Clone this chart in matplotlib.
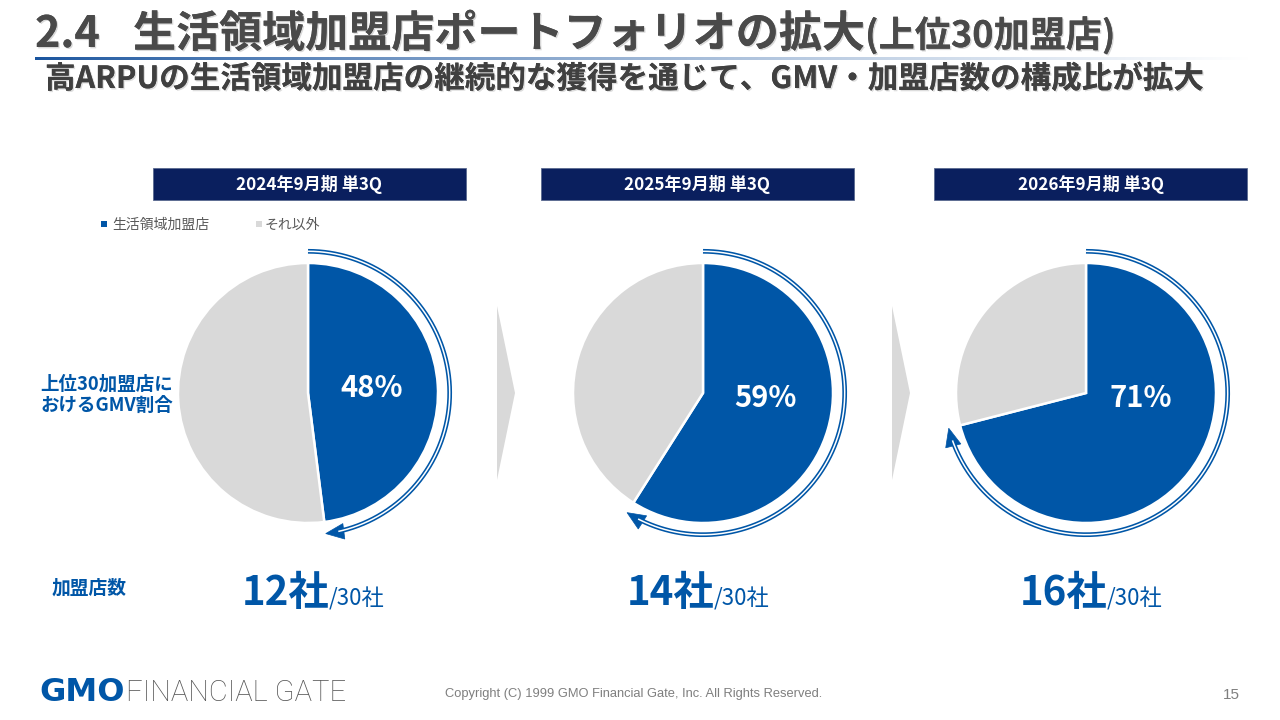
import numpy as np
import matplotlib
matplotlib.use("Agg")
import matplotlib.pyplot as plt
from matplotlib.patches import Rectangle, Polygon
import matplotlib.patheffects as pe

plt.rcParams['font.family'] = ['Noto Sans CJK JP', 'DejaVu Sans']

# ---------------- data ----------------
periods = ['2024年9月期 単3Q', '2025年9月期 単3Q', '2026年9月期 単3Q']
life_share = [48, 59, 71]          # 生活領域加盟店 share of GMV (%)
other_share = [52, 41, 29]         # それ以外 (%)
store_counts = [12, 14, 16]        # 加盟店数
store_total = 30
legend_labels = ['生活領域加盟店', 'それ以外']

title_num = '2.4'
title_main = '生活領域加盟店ポートフォリオの拡大'
title_sub = '(上位30加盟店)'
subtitle = '高ARPUの生活領域加盟店の継続的な獲得を通じて、GMV・加盟店数の構成比が拡大'
row_label_gmv = '上位30加盟店に\nおけるGMV割合'
row_label_cnt = '加盟店数'
copyright_txt = 'Copyright (C) 1999 GMO Financial Gate, Inc. All Rights Reserved.'
page_no = '15'

# ---------------- style ----------------
BLUE = '#0056A7'
GRAY = '#D9D9D9'
NAVY = '#0A1F5E'
TITLE_C = '#4A4A4A'

W, H = 1280, 720
fig = plt.figure(figsize=(W / 100, H / 100), dpi=100)
fig.patch.set_facecolor('white')

bg = fig.add_axes([0, 0, 1, 1])
bg.set_xlim(0, W)
bg.set_ylim(H, 0)
bg.axis('off')

renderer = fig.canvas.get_renderer()


def text_width(t):
    bb = t.get_window_extent(renderer=renderer)
    return bb.width


# ---------------- title ----------------
shadow = [pe.withSimplePatchShadow(offset=(1.0, -1.0), shadow_rgbFace='#aaaaaa', alpha=0.45), pe.Normal()]
t1 = bg.text(35, 47, title_num, fontsize=31, fontweight='bold', color=TITLE_C,
             va='baseline', ha='left', path_effects=shadow)
t2 = bg.text(133, 47, title_main, fontsize=31, fontweight='bold', color=TITLE_C,
             va='baseline', ha='left', path_effects=shadow)
x_after = 133 + text_width(t2)
bg.text(x_after + 1, 47, title_sub, fontsize=26, fontweight='bold', color=TITLE_C,
        va='baseline', ha='left', path_effects=shadow)

# gradient rule under title
grad = np.linspace(0, 1, 400)
c0 = np.array([0.10, 0.33, 0.62])
c1 = np.array([1.0, 1.0, 1.0])
img = np.zeros((1, 400, 3))
for i, g in enumerate(grad):
    gg = g ** 0.8
    img[0, i] = c0 * (1 - gg) + c1 * gg
bg.imshow(img, extent=(35, 1250, 60.5, 57.5), aspect='auto', zorder=1)
bg.set_xlim(0, W)
bg.set_ylim(H, 0)

bg.text(45, 88, subtitle, fontsize=22, fontweight='bold', color='#404040',
        va='baseline', ha='left',
        path_effects=[pe.withSimplePatchShadow(offset=(1, -1), shadow_rgbFace='#aaaaaa', alpha=0.4), pe.Normal()])

# ---------------- header boxes ----------------
box_x = [153, 541, 934]
box_w = 313
for bx, lab in zip(box_x, periods):
    bg.add_patch(Rectangle((bx, 168), box_w, 32, facecolor=NAVY, edgecolor='#5a6a90', lw=0.6, zorder=2))
    bg.text(bx + box_w / 2, 185, lab, color='white', fontsize=12.3, fontweight='bold',
            ha='center', va='center', zorder=3)

# ---------------- legend ----------------
bg.add_patch(Rectangle((101, 221), 6, 6, facecolor=BLUE, edgecolor='none'))
bg.text(112, 224.5, legend_labels[0], fontsize=10, color='#595959', va='center', ha='left')
bg.add_patch(Rectangle((256, 221), 6, 6, facecolor=GRAY, edgecolor='none'))
bg.text(265, 224.5, legend_labels[1], fontsize=10, color='#595959', va='center', ha='left')

# ---------------- row labels ----------------
bg.text(40, 395, row_label_gmv, fontsize=13.3, fontweight='bold', color=BLUE,
        va='center', ha='left', linespacing=1.15)
bg.text(52, 588, row_label_cnt, fontsize=13.5, fontweight='bold', color=BLUE,
        va='center', ha='left')

# ---------------- chevrons ----------------
for x0 in [497, 892]:
    bg.add_patch(Polygon([[x0, 306], [x0 + 18, 393], [x0, 480]], closed=True,
                         facecolor=GRAY, edgecolor='none'))

# ---------------- pies ----------------
centers = [(308, 393), (703, 393), (1086, 393)]
count_centers = [313, 698, 1091]
R_PX = 130.0
HALF = 175.0
label_offsets = [(0.49, 0.04), (0.48, -0.04), (0.42, -0.04)]

for (cx, cy), s_life, s_other, off in zip(centers, life_share, other_share, label_offsets):
    ax = fig.add_axes([(cx - HALF) / W, 1 - (cy + HALF) / H, 2 * HALF / W, 2 * HALF / H])
    ax.pie([s_life, s_other], colors=[BLUE, GRAY], startangle=90, counterclock=False,
           radius=1.0, wedgeprops=dict(edgecolor='white', linewidth=1.8))
    lim = HALF / R_PX
    ax.set_xlim(-lim, lim)
    ax.set_ylim(-lim, lim)
    ax.axis('off')

    # percent label
    ax.text(off[0], off[1], f'{s_life}%', color='white', fontsize=21, fontweight='bold',
            ha='center', va='center')

    # double-line arrow along the blue wedge
    R = 1.09
    te = np.radians(90 - s_life / 100 * 360)
    L, Wd = 0.14, 0.12
    t_line_end = te + (L * 0.7) / R
    th = np.linspace(np.radians(90), t_line_end, 300)
    ax.plot(R * np.cos(th), R * np.sin(th), color=BLUE, lw=3.4, solid_capstyle='butt')
    ax.plot(R * np.cos(th), R * np.sin(th), color='white', lw=1.1, solid_capstyle='butt')
    tip = np.array([R * np.cos(te), R * np.sin(te)])
    tang = np.array([np.sin(te), -np.cos(te)])
    rad = np.array([np.cos(te), np.sin(te)])
    base = tip - L * tang
    ax.add_patch(Polygon([tip, base + Wd / 2 * rad, base - Wd / 2 * rad], closed=True,
                         facecolor=BLUE, edgecolor=BLUE, lw=0.5))

# ---------------- store counts ----------------
for gx, n in zip(count_centers, store_counts):
    ta = bg.text(0, 605, f'{n}社', fontsize=29, fontweight='bold', color=BLUE,
                 va='baseline', ha='left')
    tb = bg.text(0, 605, f'/{store_total}社', fontsize=16, color=BLUE,
                 va='baseline', ha='left')
    wa = text_width(ta)
    wb = text_width(tb)
    x0 = gx - (wa + wb) / 2
    ta.set_x(x0)
    tb.set_x(x0 + wa)

# ---------------- footer ----------------
tg = bg.text(39, 701, 'GMO', fontsize=23, fontweight='heavy', color=BLUE,
             va='baseline', ha='left', family=['DejaVu Sans'])
wg = text_width(tg)
bg.text(39 + wg + 1, 701, 'FINANCIAL GATE', fontsize=21, color='#555555',
        va='baseline', ha='left', family=['Roboto'], fontweight='light')
bg.text(445, 697, copyright_txt, fontsize=9.3, color='#7F7F7F', va='baseline', ha='left',
        family=['Liberation Sans'])
bg.text(1240, 699, page_no, fontsize=11, color='#7F7F7F', va='baseline', ha='right',
        family=['Liberation Sans'])

fig.savefig('out.png', dpi=100, facecolor='white')
